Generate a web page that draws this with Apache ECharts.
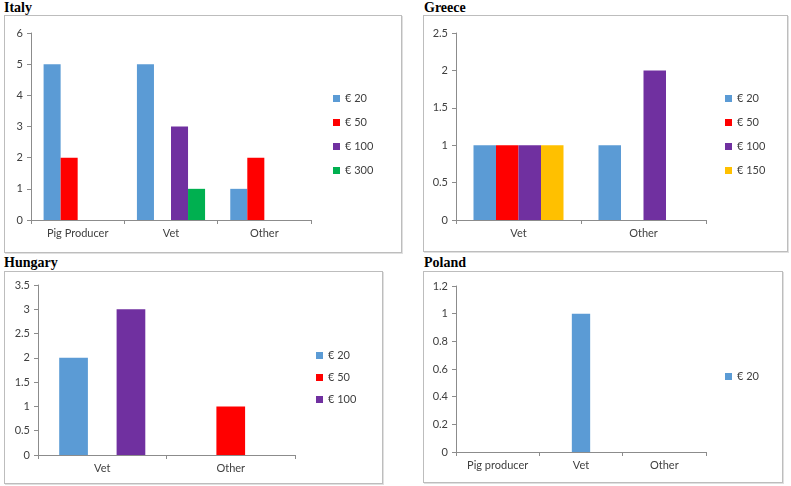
<!DOCTYPE html>
<html>
<head>
<meta charset="utf-8">
<script src="https://cdn.jsdelivr.net/npm/echarts@6/dist/echarts.min.js"></script>
<style>
  body { margin: 0; background: #fff; width: 791px; height: 486px; position: relative; overflow: hidden; }
  .ttl { position: absolute; font-family: "Liberation Serif", serif; font-weight: bold; font-size: 14px; color: #000; }
  .box { position: absolute; border: 1px solid #bdbdbd; box-shadow: 1px 1px 0 #e0e0e0; box-sizing: border-box; }
</style>
</head>
<body>
<div class="ttl" style="left:4px;top:0px">Italy</div>
<div class="ttl" style="left:424px;top:0px">Greece</div>
<div class="ttl" style="left:4px;top:255px">Hungary</div>
<div class="ttl" style="left:424px;top:255px">Poland</div>
<div id="italy" class="box" style="left:4px;top:15px;width:398px;height:238px"></div>
<div id="greece" class="box" style="left:423px;top:15px;width:365px;height:237px"></div>
<div id="hungary" class="box" style="left:4px;top:271px;width:379px;height:213px"></div>
<div id="poland" class="box" style="left:423px;top:271px;width:360px;height:212px"></div>
<script>
// colours per price level
const colors = { "€ 20": "#5b9bd5", "€ 50": "#ff0000", "€ 100": "#7030a0", "€ 150": "#ffc000", "€ 300": "#00b050" };

// Italy
const italyCats = ["Pig Producer", "Vet", "Other"];
const italy20 = [5, 5, 1];
const italy50 = [2, 0, 2];
const italy100 = [0, 3, 0];
const italy300 = [0, 1, 0];

// Greece
const greeceCats = ["Vet", "Other"];
const greece20 = [1, 1];
const greece50 = [1, 0];
const greece100 = [1, 2];
const greece150 = [1, 0];

// Hungary
const hungaryCats = ["Vet", "Other"];
const hungary20 = [2, 0];
const hungary50 = [0, 1];
const hungary100 = [3, 0];

// Poland
const polandCats = ["Pig producer", "Vet", "Other"];
const poland20 = [0, 1, 0];

const font = "Lato, 'Open Sans', sans-serif";

function makeChart(id, cats, series, yMax, yInterval, grid, legendPos, catGap) {
  const chart = echarts.init(document.getElementById(id));
  chart.setOption({
    animation: false,
    grid: grid,
    legend: {
      orient: "vertical",
      left: legendPos.left,
      top: legendPos.top,
      itemWidth: 7,
      itemHeight: 7,
      itemGap: legendPos.gap,
      icon: "rect",
      textStyle: { fontFamily: font, fontSize: 11, color: "#404040" },
      data: series.map((s) => s.name),
    },
    xAxis: {
      type: "category",
      data: cats,
      axisLine: { lineStyle: { color: "#8c8c8c" } },
      axisTick: { show: true, alignWithLabel: false, length: 4, lineStyle: { color: "#8c8c8c" } },
      axisLabel: { fontFamily: font, fontSize: 11, color: "#404040", margin: 8 },
    },
    yAxis: {
      type: "value",
      min: 0,
      max: yMax,
      interval: yInterval,
      splitLine: { show: false },
      axisLine: { show: true, lineStyle: { color: "#8c8c8c" } },
      axisTick: { show: true, length: 4, inside: false, lineStyle: { color: "#8c8c8c" } },
      axisLabel: { fontFamily: font, fontSize: 11, color: "#404040", margin: 8 },
    },
    series: series.map((s) => ({
      name: s.name,
      type: "bar",
      data: s.data.map((v) => (v === 0 ? "-" : v)),
      barGap: "0%",
      barCategoryGap: catGap,
      itemStyle: { color: colors[s.name] },
    })),
  });
}

makeChart("italy", italyCats, [
  { name: "€ 20", data: italy20 },
  { name: "€ 50", data: italy50 },
  { name: "€ 100", data: italy100 },
  { name: "€ 300", data: italy300 },
], 6, 1, { left: 26, top: 17, right: 90, bottom: 32 }, { left: 323, top: 72, gap: 13 }, "27%");

makeChart("greece", greeceCats, [
  { name: "€ 20", data: greece20 },
  { name: "€ 50", data: greece50 },
  { name: "€ 100", data: greece100 },
  { name: "€ 150", data: greece150 },
], 2.5, 0.5, { left: 32, top: 17, right: 81, bottom: 31 }, { left: 296, top: 72, gap: 13 }, "28%");

makeChart("hungary", hungaryCats, [
  { name: "€ 20", data: hungary20 },
  { name: "€ 50", data: hungary50 },
  { name: "€ 100", data: hungary100 },
], 3.5, 0.5, { left: 33, top: 13, right: 87, bottom: 28 }, { left: 306, top: 73, gap: 11 }, "33%");

makeChart("poland", polandCats, [
  { name: "€ 20", data: poland20 },
], 1.2, 0.2, { left: 32, top: 14, right: 76, bottom: 30 }, { left: 296, top: 94, gap: 11 }, "78%");
</script>
</body>
</html>
